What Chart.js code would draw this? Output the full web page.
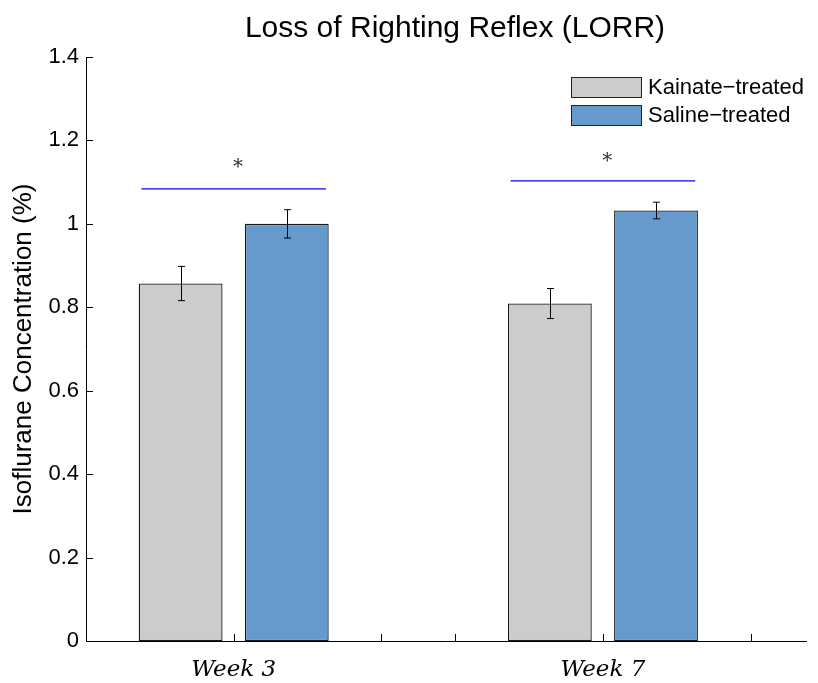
<!DOCTYPE html>
<html>
<head>
<meta charset="utf-8">
<script src="https://cdn.jsdelivr.net/npm/chart.js@4.4.1/dist/chart.umd.min.js"></script>
<style>
  html, body { margin: 0; padding: 0; background: #fff; }
  #wrap { width: 818px; height: 683px; }
</style>
</head>
<body>
<div id="wrap"><canvas id="myChart"></canvas></div>
<script>
var weeks = [1, 2];
var weekLabels = { 1: 'Week 3', 2: 'Week 7' };
var kainate = [0.857, 0.809];
var kainateErr = [0.041, 0.036];
var saline = [1.0, 1.032];
var salineErr = [0.034, 0.020];
var sigLineY = [1.084, 1.103];
var sigStarY = [1.143, 1.158];
var xTickValues = [1, 1.4, 1.6, 2, 2.4];
var yTickValues = [0, 0.2, 0.4, 0.6, 0.8, 1, 1.2, 1.4];

const FONT = "'Liberation Sans', Arial, Helvetica, sans-serif";

// inward ticks, error bars, significance marks, title and legend
const extras = {
  id: 'extras',
  afterDatasetsDraw(chart) {
    const ctx = chart.ctx;
    const x = chart.scales.x;
    const y = chart.scales.y;
    const area = chart.chartArea;
    ctx.save();

    // error bars
    ctx.strokeStyle = '#000';
    ctx.lineWidth = 1;
    const errs = [kainateErr, salineErr];
    chart.data.datasets.forEach((ds, di) => {
      const meta = chart.getDatasetMeta(di);
      meta.data.forEach((bar, i) => {
        const v = ds.data[i].y;
        const e = errs[di][i];
        const top = y.getPixelForValue(v + e);
        const bot = y.getPixelForValue(v - e);
        const cx = Math.round(bar.x) + 0.5;
        ctx.beginPath();
        ctx.moveTo(cx, top); ctx.lineTo(cx, bot);
        ctx.moveTo(cx - 3.5, top); ctx.lineTo(cx + 3.5, top);
        ctx.moveTo(cx - 3.5, bot); ctx.lineTo(cx + 3.5, bot);
        ctx.stroke();
      });
    });

    // significance lines and stars
    weeks.forEach((w, i) => {
      const ly = y.getPixelForValue(sigLineY[i]);
      ctx.strokeStyle = '#0000ff';
      ctx.lineWidth = 1.2;
      ctx.beginPath();
      ctx.moveTo(x.getPixelForValue(w - 0.25), ly);
      ctx.lineTo(x.getPixelForValue(w + 0.25), ly);
      ctx.stroke();
      ctx.fillStyle = '#333';
      ctx.font = "20px 'DejaVu Serif', serif";
      ctx.textAlign = 'center';
      ctx.textBaseline = 'middle';
      ctx.fillText('*', x.getPixelForValue(w + 0.012), y.getPixelForValue(sigStarY[i]) + 4);
    });

    // inward ticks
    ctx.strokeStyle = '#000';
    ctx.lineWidth = 1;
    ctx.beginPath();
    xTickValues.forEach(v => {
      const px = Math.round(x.getPixelForValue(v)) + 0.5;
      ctx.moveTo(px, area.bottom);
      ctx.lineTo(px, area.bottom - 7);
    });
    yTickValues.forEach(v => {
      const py = Math.round(y.getPixelForValue(v)) + 0.5;
      ctx.moveTo(area.left, py);
      ctx.lineTo(area.left + 7, py);
    });
    ctx.stroke();

    // legend
    const lx = area.right - 235;
    let ly = 77;
    ctx.font = '22px ' + FONT;
    ctx.textAlign = 'left';
    ctx.textBaseline = 'middle';
    chart.data.datasets.forEach(ds => {
      ctx.fillStyle = ds.backgroundColor;
      ctx.fillRect(lx, ly, 70, 20);
      ctx.strokeStyle = '#222';
      ctx.strokeRect(lx + 0.5, ly + 0.5, 70, 20);
      ctx.fillStyle = '#000';
      ctx.fillText(ds.label, lx + 77, ly + 11);
      ly += 28;
    });

    // title
    ctx.font = '30px ' + FONT;
    ctx.textAlign = 'center';
    ctx.textBaseline = 'alphabetic';
    ctx.fillStyle = '#000';
    ctx.fillText('Loss of Righting Reflex (LORR)', 455, 37);

    ctx.restore();
  }
};

new Chart(document.getElementById('myChart'), {
  type: 'bar',
  data: {
    datasets: [
      {
        label: 'Kainate\u2212treated',
        data: weeks.map((w, i) => ({ x: w, y: kainate[i] })),
        backgroundColor: '#cccccc',
        borderColor: '#1a1a1a',
        borderWidth: 1.3,
        borderSkipped: false,
      },
      {
        label: 'Saline\u2212treated',
        data: weeks.map((w, i) => ({ x: w, y: saline[i] })),
        backgroundColor: '#6699cc',
        borderColor: '#1a1a1a',
        borderWidth: 1.3,
        borderSkipped: false,
      },
    ],
  },
  options: {
    responsive: true,
    maintainAspectRatio: false,
    animation: false,
    categoryPercentage: 0.575,
    barPercentage: 0.79,
    layout: { padding: { top: 57, right: 12, left: 0, bottom: 0 } },
    plugins: {
      legend: { display: false },
      tooltip: { enabled: false },
    },
    scales: {
      x: {
        type: 'linear',
        offset: false,
        min: 0.6,
        max: 2.55,
        afterBuildTicks: (scale) => {
          scale.ticks = weeks.map(w => ({ value: w }));
        },
        afterFit: (scale) => { scale.height = 42; },
        grid: { display: false, drawTicks: false, offset: false },
        border: { display: true, color: '#000', width: 1 },
        ticks: {
          color: '#000',
          padding: 15,
          font: { family: "'DejaVu Serif', serif", size: 23, style: 'italic' },
          callback: (v) => weekLabels[v] || '',
        },
      },
      y: {
        min: 0,
        max: 1.4,
        afterBuildTicks: (scale) => {
          scale.ticks = yTickValues.map(v => ({ value: v }));
        },
        afterFit: (scale) => { scale.width = 86; },
        grid: { display: false, drawTicks: false },
        border: { display: true, color: '#000', width: 1 },
        ticks: {
          color: '#000',
          padding: 7,
          font: { family: FONT, size: 22 },
          callback: (v) => String(Math.round(v * 10) / 10),
        },
        title: {
          display: true,
          text: 'Isoflurane Concentration (%)',
          color: '#000',
          font: { family: FONT, size: 26 },
          padding: { top: 8, bottom: 0 },
        },
      },
    },
  },
  plugins: [extras],
});
</script>
</body>
</html>
